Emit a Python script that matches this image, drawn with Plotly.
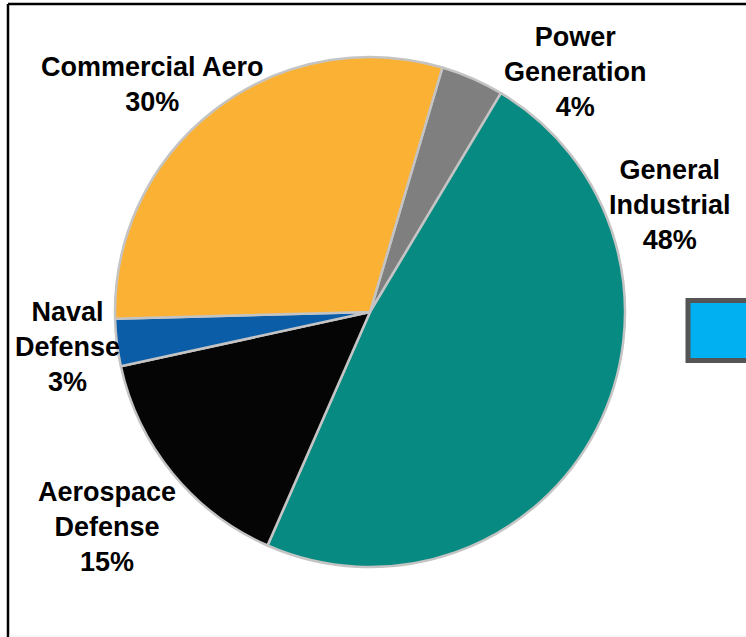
import plotly.graph_objects as go

# Revenue mix by end market (percent of total)
segments = ["Power Generation", "General Industrial", "Aerospace Defense", "Naval Defense", "Commercial Aero"]
label_lines = ["Power<br>Generation", "General<br>Industrial", "Aerospace<br>Defense", "Naval<br>Defense", "Commercial Aero"]
shares = [4, 48, 15, 3, 30]
colors = ["#7F7F7F", "#078A81", "#050505", "#0B5DA7", "#FBB134"]

W, H = 746, 637
cx, cy, r = 370, 312, 255  # pie centre and radius in pixels


def px_x(x):
    return x / W


def px_y(y):
    return 1 - y / H


fig = go.Figure(
    go.Pie(
        labels=segments,
        values=shares,
        sort=False,
        direction="clockwise",
        rotation=16.5,
        textinfo="none",
        hoverinfo="label+percent",
        marker=dict(colors=colors, line=dict(color="#C4C4C4", width=2.5)),
        domain=dict(x=[px_x(cx - r), px_x(cx + r)], y=[px_y(cy + r), px_y(cy - r)]),
        showlegend=False,
    )
)

# Label block centres (pixels)
label_pos = {
    "Power Generation": (575, 72),
    "General Industrial": (670, 205),
    "Aerospace Defense": (107, 527),
    "Naval Defense": (67, 347),
    "Commercial Aero": (152, 85),
}

annotations = []
for name, lines, val in zip(segments, label_lines, shares):
    x, y = label_pos[name]
    annotations.append(
        dict(
            x=px_x(x), y=px_y(y), xref="paper", yref="paper",
            text=f"<b>{lines}<br>{val}%</b>",
            showarrow=False, align="center",
            xanchor="center", yanchor="middle",
            font=dict(family="Liberation Sans, Arial, sans-serif", size=27, color="#000000"),
        )
    )

shapes = [
    # frame
    dict(type="line", xref="paper", yref="paper", x0=px_x(8), x1=px_x(W + 5), y0=px_y(4), y1=px_y(4),
         line=dict(color="#000000", width=2.5)),
    dict(type="line", xref="paper", yref="paper", x0=px_x(8), x1=px_x(8), y0=px_y(4), y1=px_y(H + 5),
         line=dict(color="#000000", width=2.5)),
    dict(type="line", xref="paper", yref="paper", x0=px_x(9), x1=px_x(W + 5), y0=px_y(636), y1=px_y(636),
         line=dict(color="#EEEEEE", width=1)),
    # legend swatch at the right edge
    dict(type="rect", xref="paper", yref="paper", x0=px_x(688), x1=px_x(780), y0=px_y(360.5), y1=px_y(300.5),
         fillcolor="#00B0F0", line=dict(color="#555555", width=5)),
]

fig.update_layout(
    width=W, height=H,
    margin=dict(l=0, r=0, t=0, b=0),
    paper_bgcolor="#FFFFFF",
    plot_bgcolor="#FFFFFF",
    annotations=annotations,
    shapes=shapes,
)

fig.write_html("out.html")
